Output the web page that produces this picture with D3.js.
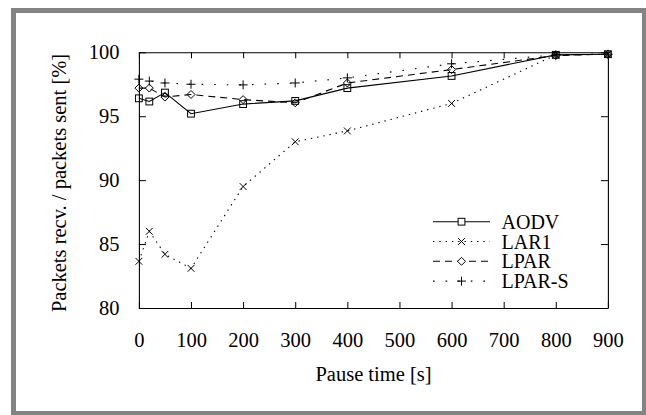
<!DOCTYPE html>
<html>
<head>
<meta charset="utf-8">
<script src="https://cdn.jsdelivr.net/npm/d3@7"></script>
<style>
  body { margin: 0; background: #fff; }
  svg { display: block; }
  text { font-family: "Liberation Serif", "Times New Roman", serif; fill: #000; }
</style>
</head>
<body>
<svg id="chart"></svg>
<script>
window.onload = function() {
    var width = 646,
	height = 415;

    // pause times (s)
    var pause = [0, 20, 50, 100, 200, 300, 400, 600, 800, 900];
    // delivery ratio [%]
    var aodv  = [96.4, 96.15, 96.85, 95.2, 95.95, 96.2, 97.2, 98.15, 99.8, 99.85];
    var lar1  = [83.65, 86.0, 84.2, 83.1, 89.5, 93.0, 93.85, 96.0, 99.8, 99.85];
    var lpar  = [97.2, 97.2, 96.5, 96.7, 96.3, 96.05, 97.6, 98.65, 99.75, 99.85];
    var lparS = [97.9, 97.75, 97.6, 97.5, 97.45, 97.6, 98.0, 99.1, 99.8, 99.85];
    var seriesNames = ['AODV', 'LAR1', 'LPAR', 'LPAR-S'];
    var xTicks = [0, 100, 200, 300, 400, 500, 600, 700, 800, 900];
    var yTicks = [80, 85, 90, 95, 100];

    var series = [
	{name: seriesNames[0], values: aodv,  dash: null,      marker: 'square'},
	{name: seriesNames[1], values: lar1,  dash: '1.4,4.9', marker: 'cross'},
	{name: seriesNames[2], values: lpar,  dash: '7,5',     marker: 'diamond'},
	{name: seriesNames[3], values: lparS, dash: '1.6,11',  marker: 'plus'}
    ];

    var svg = d3.select('#chart')
	.attr('width', width)
	.attr('height', height);

    // grey frame
    svg.append('rect')
	.attr('x', 13.5).attr('y', 10.5)
	.attr('width', 631).attr('height', 403)
	.attr('fill', 'none')
	.attr('stroke', '#838383')
	.attr('stroke-width', 5);

    var x = d3.scaleLinear().domain([0, 900]).range([138.9, 607.9]),
	y = d3.scaleLinear().domain([80, 100]).range([308, 52.3]);

    function styleAxis(g) {
	g.select('.domain').attr('stroke', '#000').attr('stroke-width', 1.1);
	g.selectAll('.tick line').attr('stroke', '#000').attr('stroke-width', 1);
	g.selectAll('text').attr('font-size', 20.5).attr('font-family', '"Liberation Serif", serif');
    }

    svg.append('g')
	.attr('transform', 'translate(0,' + y(80) + ')')
	.call(d3.axisBottom(x).tickValues(xTicks).tickSizeInner(-6).tickSizeOuter(0).tickPadding(24))
	.call(styleAxis);

    svg.append('g')
	.attr('transform', 'translate(0,' + y(100) + ')')
	.call(d3.axisTop(x).tickValues(xTicks).tickFormat('').tickSizeInner(-6).tickSizeOuter(0))
	.call(styleAxis);

    svg.append('g')
	.attr('transform', 'translate(' + x(0) + ',0)')
	.call(d3.axisLeft(y).tickValues(yTicks).tickSizeInner(-7).tickSizeOuter(0).tickPadding(19.5))
	.call(styleAxis);

    svg.append('g')
	.attr('transform', 'translate(' + x(900) + ',0)')
	.call(d3.axisRight(y).tickValues(yTicks).tickFormat('').tickSizeInner(-7).tickSizeOuter(0))
	.call(styleAxis);

    // axis titles
    svg.append('text')
	.attr('x', 373.5).attr('y', 381)
	.attr('text-anchor', 'middle')
	.attr('font-size', 20.5)
	.text('Pause time [s]');

    svg.append('text')
	.attr('transform', 'translate(66,183) rotate(-90)')
	.attr('text-anchor', 'middle')
	.attr('font-size', 20.5)
	.text('Packets recv. / packets sent [%]');

    function drawMarker(g, type, cx, cy) {
	var s = 3.4;
	if (type == 'square') {
	    g.append('rect').attr('x', cx - s).attr('y', cy - s)
		.attr('width', 2 * s).attr('height', 2 * s);
	} else if (type == 'diamond') {
	    g.append('path').attr('d', 'M' + (cx - 4) + ',' + cy + 'L' + cx + ',' + (cy - 4) +
				     'L' + (cx + 4) + ',' + cy + 'L' + cx + ',' + (cy + 4) + 'Z');
	} else if (type == 'cross') {
	    g.append('path').attr('d', 'M' + (cx - s) + ',' + (cy - s) + 'L' + (cx + s) + ',' + (cy + s) +
				     'M' + (cx - s) + ',' + (cy + s) + 'L' + (cx + s) + ',' + (cy - s));
	} else {
	    g.append('path').attr('d', 'M' + (cx - 4.5) + ',' + cy + 'L' + (cx + 4.5) + ',' + cy +
				     'M' + cx + ',' + (cy - 4.5) + 'L' + cx + ',' + (cy + 4.5));
	}
    }

    var line = d3.line()
	.x(function(d, i) { return x(pause[i]); })
	.y(function(d) { return y(d); });

    var plot = svg.append('g');
    series.forEach(function(s) {
	plot.append('path')
	    .attr('d', line(s.values))
	    .attr('fill', 'none')
	    .attr('stroke', '#000')
	    .attr('stroke-width', 1.1)
	    .attr('stroke-dasharray', s.dash);
    });
    series.forEach(function(s) {
	var mg = plot.append('g')
	    .attr('fill', 'none')
	    .attr('stroke', '#000')
	    .attr('stroke-width', 1);
	s.values.forEach(function(v, i) { drawMarker(mg, s.marker, x(pause[i]), y(v)); });
    });

    // legend
    var legend = svg.append('g');
    series.forEach(function(s, i) {
	var ly = 221.7 + i * 19.8;
	legend.append('line')
	    .attr('x1', 433).attr('x2', 490)
	    .attr('y1', ly).attr('y2', ly)
	    .attr('stroke', '#000')
	    .attr('stroke-width', 1.1)
	    .attr('stroke-dasharray', s.dash);
	var mg = legend.append('g').attr('fill', '#fff').attr('stroke', '#000').attr('stroke-width', 1);
	drawMarker(mg, s.marker, 461.5, ly);
	legend.append('text')
	    .attr('x', 501.5).attr('y', ly + 7)
	    .attr('font-size', 20)
	    .text(s.name);
    });
}
</script>
</body>
</html>
